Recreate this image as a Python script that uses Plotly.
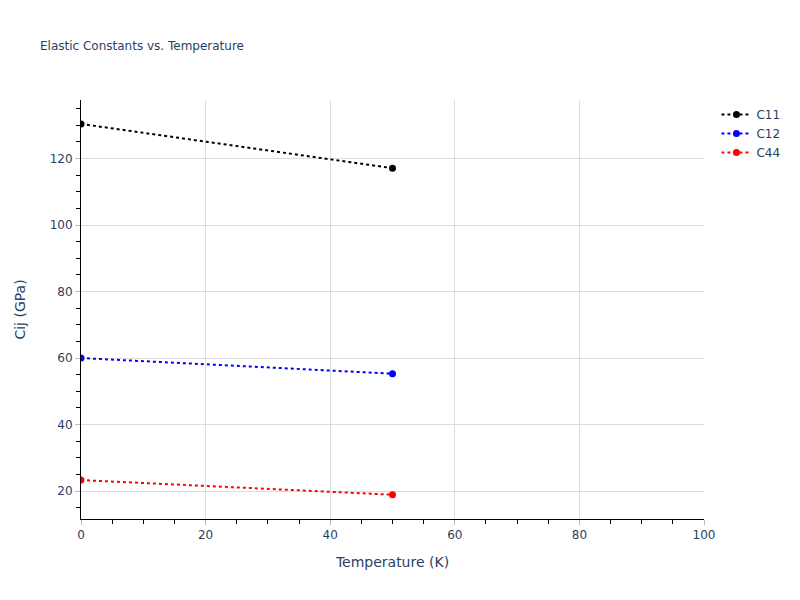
import plotly.graph_objects as go

temperature = [0, 50]
c11 = [130.4, 117.1]
c12 = [60.0, 55.3]
c44 = [23.3, 18.9]

series = [("C11", c11, "black"), ("C12", c12, "blue"), ("C44", c44, "red")]

fig = go.Figure()
for name, vals, color in series:
    fig.add_trace(go.Scatter(x=temperature, y=vals, name=name, mode="lines+markers",
                             line=dict(color=color, dash="dot", width=2),
                             marker=dict(color=color, size=7)))

axis_common = dict(showline=True, linecolor="black", linewidth=1, ticks="outside",
                   tickcolor="#bbb", ticklen=5, gridcolor="#dcdcdc", zeroline=False,
                   minor=dict(ticks="outside", ticklen=4, tickcolor="black", showgrid=False))

fig.update_layout(
    template="plotly_white",
    width=792, height=592,
    font=dict(family="DejaVu Sans"),
    title=dict(text="Elastic Constants vs. Temperature", x=32/792, y=1 - 34/592,
               font=dict(size=12)),
    margin=dict(l=71, r=96, t=92, b=81),
    xaxis=dict(title="Temperature (K)", range=[0, 100], **axis_common),
    yaxis=dict(title=dict(text="Cij (GPa)", standoff=20), range=[11.6, 137.6], **axis_common),
    legend=dict(x=1.02, y=1, xanchor="left", yanchor="top"),
)
fig.write_html("out.html")
